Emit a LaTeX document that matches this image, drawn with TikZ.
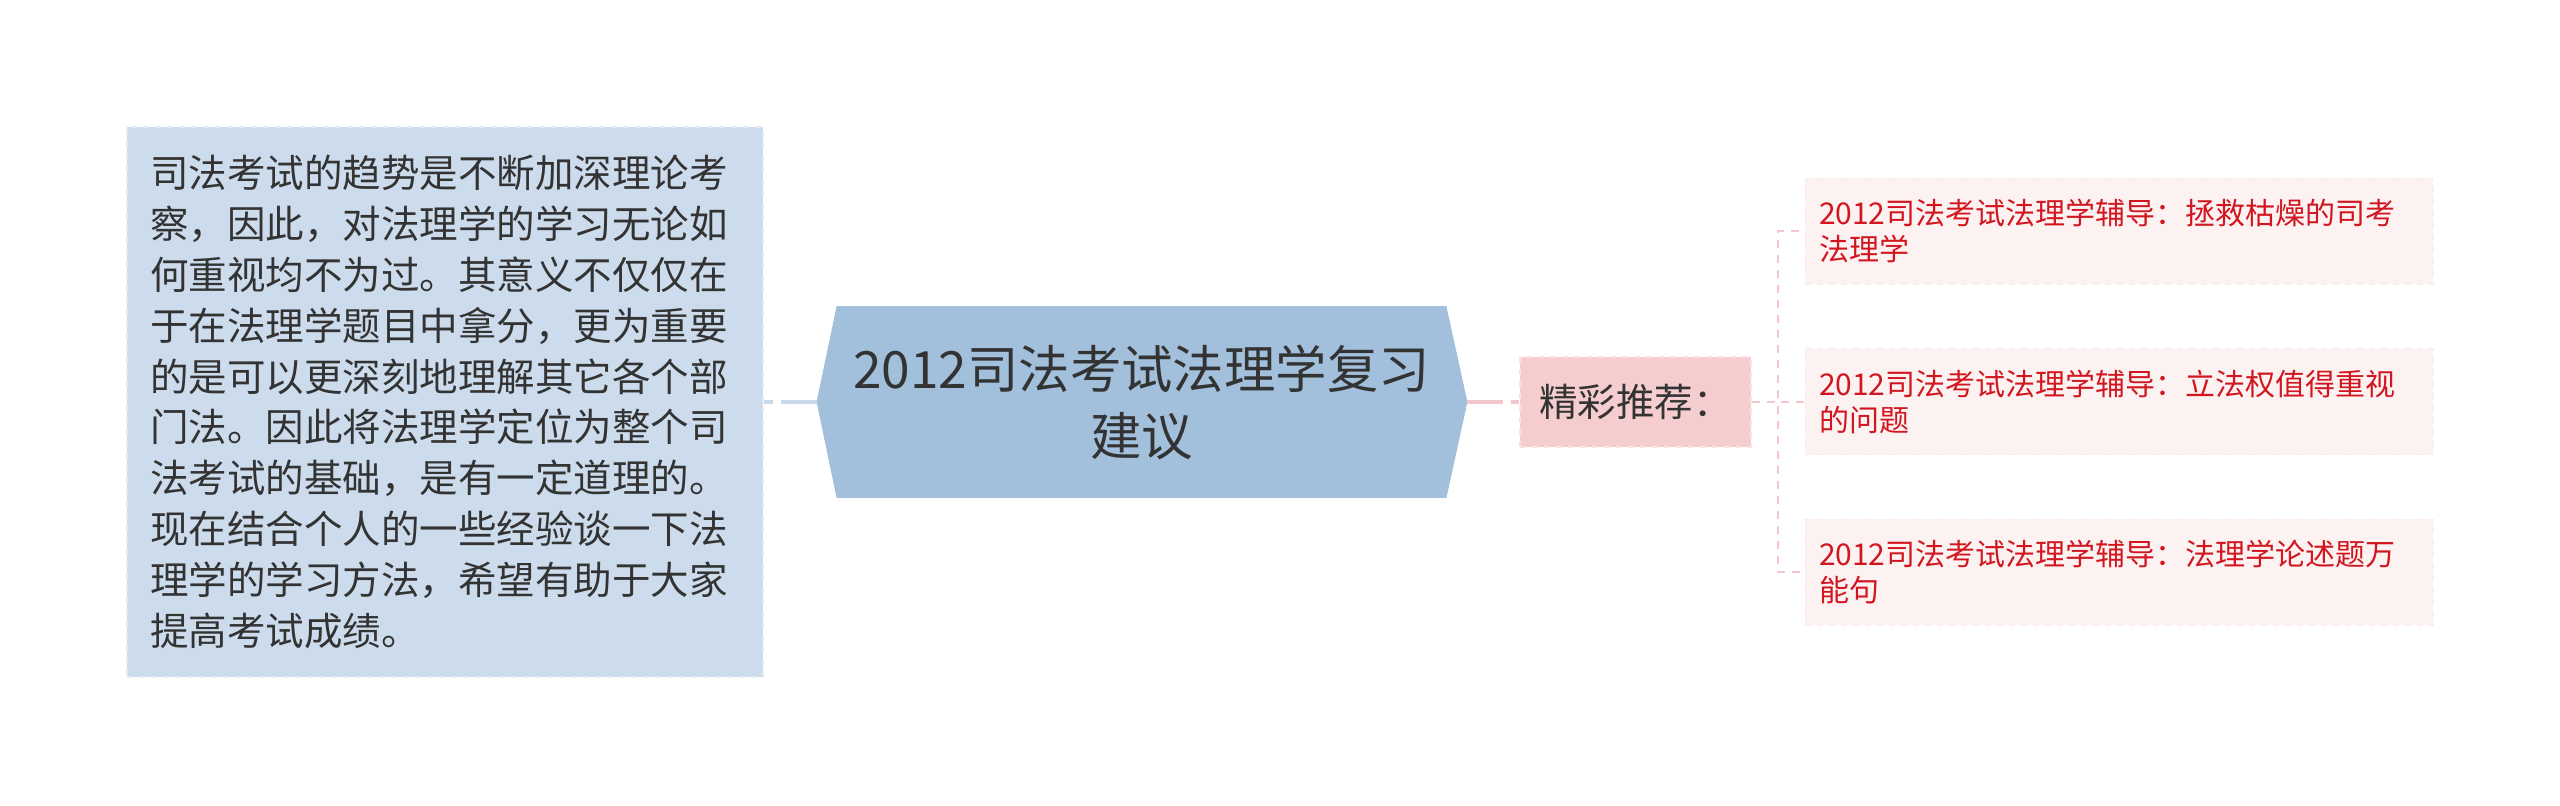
\documentclass[tikz,border=0pt]{standalone}
\usepackage{fontspec}
\setmainfont{Noto Sans CJK SC}
\usetikzlibrary{backgrounds}
\definecolor{notefill}{HTML}{CCDCEC}
\definecolor{noteline}{HTML}{E2EAF4}
\definecolor{rootfill}{HTML}{A2BFDB}
\definecolor{bluelink}{HTML}{C8D9EB}
\definecolor{tipfill}{HTML}{F5CDCF}
\definecolor{tipline}{HTML}{FAE2E3}
\definecolor{pinklink}{HTML}{F2C6CA}
\definecolor{subfill}{HTML}{FDF2F2}
\definecolor{subline}{HTML}{FBEAEA}
\definecolor{subtext}{HTML}{D2161F}
\definecolor{textgrey}{HTML}{333333}
\begin{document}
\begin{tikzpicture}[x=0.5pt,y=-0.5pt,
		note/.style={fill=notefill,draw=noteline,dashed,line width=0.75pt,
			minimum width=318pt,minimum height=275pt,inner sep=0pt,
			text width=295pt,align=left,text=textgrey,
			font=\fontsize{19.25}{25.4}\selectfont},
		root/.style={minimum width=304.5pt,minimum height=95.5pt,inner sep=0pt,
			align=center,text=textgrey,font=\fontsize{25.7}{33.5}\selectfont},
		tip/.style={fill=tipfill,draw=tipline,dashed,line width=0.75pt,
			minimum width=115.5pt,minimum height=45pt,inner sep=0pt,
			text=textgrey,font=\fontsize{19.25}{23}\selectfont},
		sub/.style={fill=subfill,draw=subline,dashed,line width=0.5pt,
			minimum width=314pt,minimum height=53pt,inner sep=0pt,
			text width=300pt,align=left,text=subtext,
			font=\fontsize{15}{18}\selectfont}]
	\useasboundingbox (0,0) rectangle (2560,805);
	\node[note] (note) at (445,402) {司法考试的趋势是不断加深理论考\\察，因此，对法理学的学习无论如\\何重视均不为过。其意义不仅仅在\\于在法理学题目中拿分，更为重要\\的是可以更深刻地理解其它各个部\\门法。因此将法理学定位为整个司\\法考试的基础，是有一定道理的。\\现在结合个人的一些经验谈一下法\\理学的学习方法，希望有助于大家\\提高考试成绩。};
	\node[root] (root) at (1141.5,402) {2012司法考试法理学复习\\建议};
	\coordinate (rootL) at ([shift={(-20,0)}]root.west);
	\coordinate (rootR) at ([shift={(21,0)}]root.east);
	\begin{scope}[on background layer]
		\fill[rootfill] (root.north west) -- (root.north east) -- (rootR)
			-- (root.south east) -- (root.south west) -- (rootL) -- cycle;
	\end{scope}
	\node[tip] (tip) at (1635.5,402) {精彩推荐：};
	\coordinate (fork) at (1778,402);
	% recommended articles
	\foreach \i / \y / \txt in
	{1/231/{2012司法考试法理学辅导：拯救枯燥的司考\\法理学},
		2/401.5/{2012司法考试法理学辅导：立法权值得重视\\的问题},
		3/572/{2012司法考试法理学辅导：法理学论述题万\\能句}}
	{
		\node[sub] (sub\i) at (2119,\y) {\txt};
		\draw[pinklink,line width=1pt,dash pattern=on 4pt off 3.5pt] (tip.east) -- (fork) |- (sub\i.west);
	}
	\draw[bluelink,line width=2pt,dash pattern=on 18pt off 4pt] (rootL) -- (note.east);
	\draw[pinklink,line width=2pt,dash pattern=on 18pt off 4pt] (rootR) -- (tip.west);
\end{tikzpicture}
\end{document}
